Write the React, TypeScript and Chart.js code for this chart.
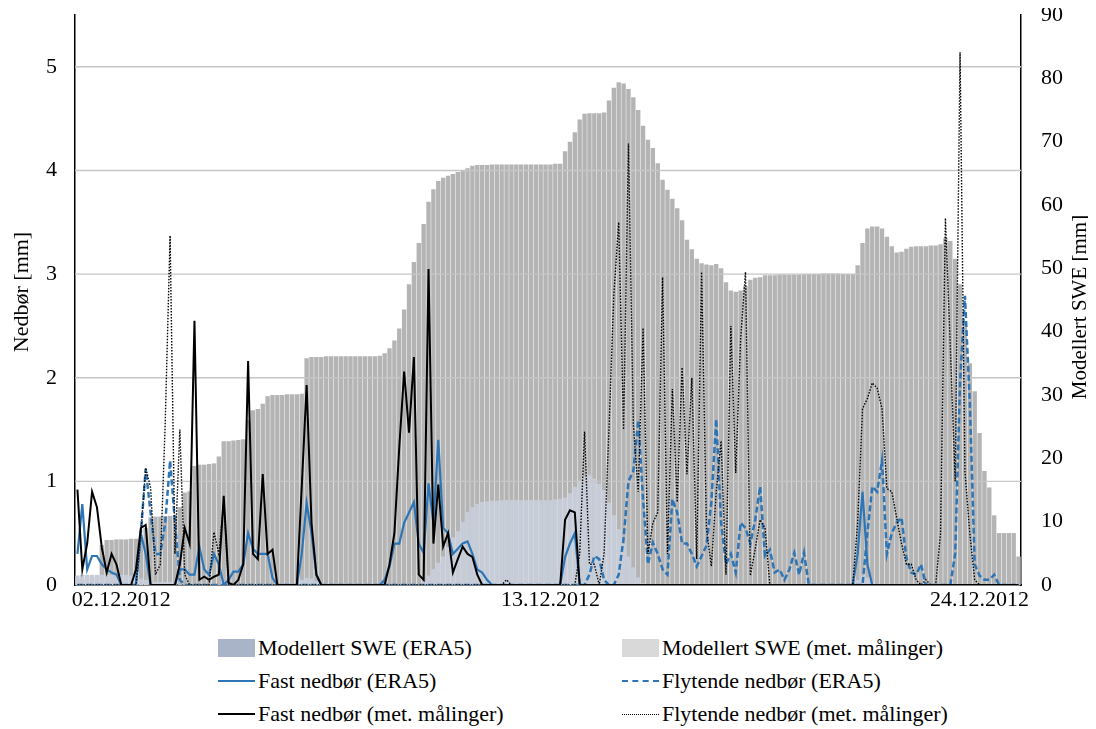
import React, { useEffect, useRef } from 'react';
import { Chart, registerables } from 'chart.js';

Chart.register(...registerables);

// 3-hourly steps from 01.12.2012 00:00
const N = 194;
const categories: string[] = Array.from({ length: N }, (_, i) => {
  const d = 1 + Math.floor(i / 8);
  const h = (i % 8) * 3;
  return `${String(d).padStart(2, '0')}.12.2012 ${String(h).padStart(2, '0')}:00`;
});

const tickIndices = [9, 97, 185];
const tickTexts = ['02.12.2012', '13.12.2012', '24.12.2012'];

// Modellert SWE (ERA5) [mm]
const sweEra5 = [
  1.0, 1.0, 1.2, 1.2, 1.2, 6.3, 7.1, 7.1, 7.2, 7.2, 7.2, 7.3, 7.3, 7.3, 9.0, 10.7,
  10.8, 10.8, 10.9, 10.9, 11.0, 12.3, 14.6, 14.8, 18.8, 19.0, 19.0, 19.1, 19.2, 20.3,
  22.7, 22.7, 22.8, 22.9, 23.0, 26.0, 27.6, 27.8, 28.6, 29.8, 30.0, 30.0, 30.0, 30.1,
  30.1, 30.1, 30.2, 35.8, 36.0,
  36.0, 36.0, 36.1, 36.1, 36.1, 36.1, 36.1, 36.1, 36.1, 36.1, 36.1, 36.1, 36.1, 36.2, 36.6,
  37.4, 38.6, 40.5, 43.5, 47.5, 51.0, 54.0, 57.0, 60.5, 62.5, 63.8, 64.3, 64.6, 64.9,
  65.2, 65.5, 65.8,
  66.2, 66.3, 66.3, 66.3, 66.4, 66.4, 66.4, 66.4, 66.4, 66.4, 66.4, 66.4, 66.4, 66.4,
  66.4, 66.4, 66.4, 66.5, 66.5,
  68.5, 70.0, 71.5, 73.5, 74.4, 74.5, 74.5, 74.5, 74.6, 76.5, 78.5, 79.4, 79.2, 78.3,
  77.0, 75.0, 72.5, 70.3, 69.0, 66.6, 64.0, 62.4, 61.0, 59.5, 57.6, 54.5, 53.0, 51.5,
  50.8, 50.6, 50.5, 50.7, 50.0, 47.8, 46.5, 46.3, 46.5, 47.2, 48.2, 48.5, 48.6,
  48.9, 48.9, 48.9, 49.0, 49.0, 49.0, 49.0, 49.0, 49.1, 49.1, 49.1, 49.1, 49.2, 49.2,
  49.2, 49.2, 49.1, 49.1, 49.1,
  50.5, 54.0, 56.3, 56.6, 56.6, 56.3, 55.0, 53.5, 52.5, 52.6, 53.1, 53.4, 53.5, 53.5,
  53.5, 53.6, 53.6, 53.8, 54.8, 54.3, 51.5, 47.5, 41.5, 35.0, 30.6, 24.0, 18.0, 15.4,
  11.0, 8.2, 8.2, 8.2, 8.2, 4.5,
];

// Modellert SWE (met. målinger) [mm]
const sweMet = [
  1.5, 1.6, 1.6, 1.6, 1.6, 1.6, 1.6, 1.6, 1.6, 1.6, 1.6, 1.5, 1.4, 1.0, 0.8,
  0.5, 0.5, 0.5, 0.5, 0.5,
  0, 0, 0, 0, 0, 0, 0, 0, 0, 0, 0, 0, 0, 0, 0, 0, 0, 0, 0, 0, 0, 0, 0, 0, 0, 0,
  0.8, 1.1, 1.0, 0.6, 0.3,
  0, 0, 0, 0, 0, 0, 0, 0, 0, 0, 0, 0, 0, 0, 0, 0, 0, 0, 0, 0,
  0.5, 1.5, 2.5, 3.5, 4.5, 6.0, 7.5, 8.5, 10.0, 11.5, 12.3, 12.8,
  13.1, 13.2, 13.3, 13.3, 13.4, 13.4, 13.4, 13.4, 13.4, 13.4, 13.4, 13.4, 13.4, 13.4,
  13.4, 13.5, 13.6,
  13.8, 14.5, 15.5, 16.5, 17.2, 17.4, 16.8, 16.0, 15.0, 13.0, 11.0, 8.8, 6.5, 4.5,
  2.8, 1.2, 0.3,
  0, 0, 0, 0, 0, 0, 0, 0, 0, 0, 0, 0, 0, 0, 0, 0, 0, 0, 0, 0, 0, 0, 0, 0, 0, 0,
  0, 0, 0, 0, 0, 0, 0, 0, 0, 0, 0, 0, 0, 0, 0, 0, 0,
  0.8, 1.5, 1.2, 0.5,
  0, 0, 0, 0, 0, 0, 0, 0, 0, 0, 0, 0, 0, 0, 0, 0, 0, 0, 0, 0, 0, 0, 0, 0, 0, 0,
  0, 0, 0, 0,
];

// Fast nedbør (ERA5) [mm]
const fastEra5 = [
  0.3, 0.78, 0.15, 0.28, 0.28, 0.2, 0.15, 0.12, 0.1, 0, 0, 0, 0, 0.5, 0.3,
  0, 0, 0, 0, 0, 0,
  0.15, 0.15, 0.1, 0.1, 0.37, 0.15, 0.1, 0.3, 0.2, 0, 0.05, 0.13, 0.13, 0.2, 0.5,
  0.35, 0.3, 0.3, 0.3, 0.07,
  0, 0, 0, 0, 0,
  0.3, 0.79, 0.5, 0.1,
  0, 0, 0, 0, 0, 0, 0, 0, 0, 0, 0, 0, 0,
  0.05, 0.18, 0.4, 0.4, 0.6, 0.7, 0.8, 0.4, 0.31, 0.98, 0.6, 1.4, 0.55, 0.5, 0.3,
  0.35, 0.4, 0.42, 0.3, 0.15, 0.12, 0.05,
  0, 0, 0, 0, 0, 0, 0, 0, 0, 0, 0, 0, 0, 0, 0,
  0.27, 0.4, 0.5,
  0, 0, 0, 0, 0, 0, 0, 0, 0, 0, 0, 0, 0, 0, 0, 0, 0, 0, 0, 0, 0, 0, 0, 0, 0, 0,
  0, 0, 0, 0, 0, 0, 0, 0, 0, 0, 0, 0, 0, 0, 0, 0, 0, 0, 0, 0, 0, 0, 0, 0, 0, 0,
  0, 0, 0, 0, 0,
  0.3, 0.9, 0.2,
  0, 0, 0, 0, 0, 0, 0, 0, 0, 0, 0, 0, 0, 0, 0, 0, 0, 0, 0, 0, 0, 0, 0, 0, 0, 0,
  0, 0, 0, 0, 0,
];

// Flytende nedbør (ERA5) [mm]
const flytEra5 = [
  0, 0, 0, 0, 0, 0, 0, 0, 0, 0, 0, 0, 0,
  0.5, 1.12, 0.7, 0.3, 0.3, 0.6, 1.2, 0.6, 0.05,
  0, 0, 0, 0, 0, 0, 0, 0, 0, 0, 0, 0, 0, 0, 0, 0, 0, 0, 0, 0, 0, 0, 0, 0, 0, 0,
  0, 0, 0, 0, 0, 0, 0, 0, 0, 0, 0, 0, 0, 0, 0, 0, 0, 0, 0, 0, 0, 0, 0, 0, 0, 0,
  0, 0, 0, 0, 0, 0, 0, 0, 0, 0, 0, 0, 0, 0, 0, 0, 0, 0, 0, 0, 0, 0, 0, 0, 0, 0,
  0, 0, 0, 0, 0,
  0.1, 0.28, 0.25, 0.05, 0, 0, 0.1, 0.45, 1.0, 1.1, 1.59, 0.82, 0.2, 0.41, 0.3,
  0.15, 0.1, 0.83, 0.7, 0.4, 0.4, 0.3, 0.18, 0.28, 0.38, 0.8, 1.6, 0.6, 0.2, 0.3,
  0.12, 0.6, 0.55, 0.4, 0.63, 0.95, 0.28, 0.34, 0.12, 0.15, 0.05, 0.15, 0.31, 0.1,
  0.31,
  0, 0, 0, 0, 0, 0, 0, 0, 0, 0, 0, 0,
  0.5, 0.95, 0.9, 1.2, 0.3, 0.5, 0.6, 0.65, 0.26, 0.12, 0.1, 0.2,
  0, 0, 0, 0, 0, 0,
  0.3, 1.95, 2.79, 1.77, 0.2, 0.09, 0.05, 0.05, 0.1,
  0, 0, 0, 0, 0, 0, 0,
];

// Fast nedbør (met. målinger) [mm]
const fastMet = [
  0.92, 0.15, 0.4, 0.9, 0.75, 0.36, 0.12, 0.3, 0.2, 0, 0, 0, 0.15, 0.55, 0.58,
  0, 0, 0, 0, 0, 0,
  0.2, 0.55, 0.4, 2.55, 0.05, 0.08, 0.05, 0.08, 0.1, 0.86, 0.02, 0, 0.05, 0.2, 2.16,
  0.3, 0.25, 1.07, 0.3, 0.34,
  0, 0, 0, 0, 0,
  0.95, 1.93, 0.6, 0.1,
  0, 0, 0, 0, 0, 0, 0, 0, 0, 0, 0, 0, 0, 0,
  0.2, 0.5, 1.33, 2.06, 1.47, 2.2, 0.1, 0.05, 3.05, 0.4, 0.97, 0.37, 0.5, 0.12,
  0.25, 0.37, 0.3, 0.27, 0.1,
  0, 0, 0, 0, 0, 0, 0, 0, 0, 0, 0, 0, 0, 0, 0, 0, 0,
  0.63, 0.72, 0.7,
  0, 0, 0, 0, 0, 0, 0, 0, 0, 0, 0, 0, 0, 0, 0, 0, 0, 0, 0, 0, 0, 0, 0, 0, 0, 0,
  0, 0, 0, 0, 0, 0, 0, 0, 0, 0, 0, 0, 0, 0, 0, 0, 0, 0, 0, 0, 0, 0, 0, 0, 0, 0,
  0, 0, 0, 0, 0, 0, 0, 0, 0, 0, 0, 0, 0, 0, 0, 0, 0, 0, 0, 0, 0, 0, 0, 0, 0, 0,
  0, 0, 0, 0, 0, 0, 0, 0, 0, 0, 0, 0, 0, 0, 0, 0, 0, 0, 0, 0, 0, 0, 0, 0, 0, 0,
  0, 0, 0, 0, 0, 0, 0,
];

// Flytende nedbør (met. målinger) [mm]
const flytMet = [
  0, 0, 0, 0, 0, 0, 0, 0, 0, 0, 0, 0, 0,
  0.5, 1.13, 0.94, 0.1, 0.2, 1.56, 3.37, 0.3, 1.5, 0.1,
  0, 0, 0, 0, 0,
  0.51, 0.3, 0.8,
  0, 0, 0, 0, 0, 0, 0, 0, 0, 0, 0, 0, 0, 0, 0, 0, 0, 0, 0, 0, 0, 0, 0, 0, 0, 0,
  0, 0, 0, 0, 0, 0, 0, 0, 0, 0, 0, 0, 0, 0, 0, 0, 0, 0, 0, 0, 0, 0, 0, 0, 0, 0,
  0, 0, 0, 0, 0,
  0.05,
  0, 0, 0, 0, 0, 0, 0, 0, 0, 0, 0, 0, 0, 0,
  0.3, 1.48, 0.2, 0.2, 0, 0.3, 1.5, 2.8, 3.5, 1.5, 4.26, 1.55, 0.9, 2.48, 0.3, 0.6,
  0.7, 2.97, 0.3, 1.89, 0.8, 2.1, 1.07, 2.0, 0.25, 3.02, 0.54, 0.18, 0.9, 1.39, 0.1,
  2.5, 1.08, 2.37, 3.02, 0.09, 0.35, 0.63, 0.55,
  0, 0, 0, 0, 0, 0, 0, 0, 0, 0, 0, 0, 0, 0, 0, 0, 0, 0,
  0.6, 1.7, 1.8, 1.95, 1.9, 1.7, 0.93, 0.9, 0.65, 0.4, 0.2, 0.2, 0.05, 0, 0.05, 0,
  0, 0.5, 3.54, 2.3, 1.0, 5.14, 1.1, 0.5, 0.05,
  0, 0, 0, 0, 0, 0, 0, 0, 0,
];

const gridValues = [1, 2, 3, 4, 5];

const BLUE = '#2E75B6';
const FONT = "'Liberation Serif', 'Times New Roman', serif";

const legendItems = [
  { label: 'Modellert SWE (ERA5)', kind: 'box', color: '#A9B4C8', col: 0, row: 0 },
  { label: 'Modellert SWE (met. målinger)', kind: 'box', color: '#D9D9D9', col: 1, row: 0 },
  { label: 'Fast nedbør (ERA5)', kind: 'solid', color: BLUE, col: 0, row: 1 },
  { label: 'Flytende nedbør (ERA5)', kind: 'dashed', color: BLUE, col: 1, row: 1 },
  { label: 'Fast nedbør (met. målinger)', kind: 'solid', color: '#000000', col: 0, row: 2 },
  { label: 'Flytende nedbør (met. målinger)', kind: 'dotted', color: '#000000', col: 1, row: 2 },
];

function fit(arr: number[]) {
  const a = arr.slice(0, N);
  while (a.length < N) a.push(0);
  return a;
}

const overlayPlugin = {
  id: 'overlay',
  afterDatasetDraw(chart: any, args: any) {
    if (args.index !== 1) return;
    const { ctx, chartArea, scales } = chart;
    ctx.save();
    ctx.strokeStyle = '#C6C6C6';
    ctx.lineWidth = 1.4;
    for (const v of gridValues) {
      const y = scales.y.getPixelForValue(v);
      ctx.beginPath();
      ctx.moveTo(chartArea.left, y);
      ctx.lineTo(chartArea.right, y);
      ctx.stroke();
    }
    ctx.restore();
  },
  afterDraw(chart: any) {
    const { ctx, chartArea } = chart;
    const cy = (chartArea.top + chartArea.bottom) / 2;
    ctx.save();
    ctx.fillStyle = '#000';
    ctx.font = `22px ${FONT}`;
    ctx.textAlign = 'center';
    ctx.textBaseline = 'middle';
    ctx.translate(14, cy - 8);
    ctx.rotate(-Math.PI / 2);
    ctx.fillText('Nedbør [mm]', 0, 0);
    ctx.restore();
    ctx.save();
    ctx.fillStyle = '#000';
    ctx.font = `21px ${FONT}`;
    ctx.textAlign = 'center';
    ctx.textBaseline = 'middle';
    ctx.translate(1072, cy + 7);
    ctx.rotate(-Math.PI / 2);
    ctx.fillText('Modellert SWE [mm]', 0, 0);
    ctx.restore();
  },
};

function LegendPatch({ kind, color }: { kind: string; color: string }) {
  if (kind === 'box') {
    return <div style={{ width: 37, height: 18, background: color }} />;
  }
  const style: any = { width: 37, height: 0 };
  if (kind === 'solid') style.borderTop = `2.5px solid ${color}`;
  if (kind === 'dashed') style.borderTop = `2.5px dashed ${color}`;
  if (kind === 'dotted') style.borderTop = `1.5px dotted ${color}`;
  return <div style={style} />;
}

export default function App() {
  const canvasRef = useRef<HTMLCanvasElement | null>(null);

  useEffect(() => {
    if (!canvasRef.current) return;
    Chart.defaults.font.family = FONT;
    const tickFont = { family: FONT, size: 22 };
    const chart = new Chart(canvasRef.current, {
      type: 'bar',
      data: {
        labels: categories,
        datasets: [
          {
            type: 'bar',
            label: 'Modellert SWE (ERA5)',
            data: fit(sweEra5),
            yAxisID: 'y2',
            backgroundColor: '#B4B4B4',
            borderWidth: 0,
            barPercentage: 0.9,
            categoryPercentage: 1.0,
            grouped: false,
            order: 11,
          } as any,
          {
            type: 'bar',
            label: 'Modellert SWE (met. målinger)',
            data: fit(sweMet),
            yAxisID: 'y2',
            backgroundColor: '#C7CDD8',
            borderWidth: 0,
            barPercentage: 0.9,
            categoryPercentage: 1.0,
            grouped: false,
            order: 10,
          } as any,
          {
            type: 'line',
            label: 'Fast nedbør (ERA5)',
            data: fit(fastEra5),
            yAxisID: 'y',
            borderColor: BLUE,
            borderWidth: 2.2,
            pointRadius: 0,
            tension: 0,
            order: 3,
          } as any,
          {
            type: 'line',
            label: 'Flytende nedbør (ERA5)',
            data: fit(flytEra5),
            yAxisID: 'y',
            borderColor: BLUE,
            borderWidth: 2.5,
            borderDash: [6, 3],
            pointRadius: 0,
            tension: 0,
            order: 2,
          } as any,
          {
            type: 'line',
            label: 'Fast nedbør (met. målinger)',
            data: fit(fastMet),
            yAxisID: 'y',
            borderColor: '#000000',
            borderWidth: 2,
            pointRadius: 0,
            tension: 0,
            order: 1,
          } as any,
          {
            type: 'line',
            label: 'Flytende nedbør (met. målinger)',
            data: fit(flytMet),
            yAxisID: 'y',
            borderColor: '#000000',
            borderWidth: 1.4,
            borderDash: [1.5, 1.5],
            pointRadius: 0,
            tension: 0,
            order: 0,
          } as any,
        ],
      },
      options: {
        responsive: false,
        maintainAspectRatio: false,
        animation: false,
        layout: { padding: { left: 0, right: 0, top: 7, bottom: 0 } },
        plugins: {
          legend: { display: false },
          tooltip: { enabled: false },
        },
        scales: {
          x: {
            type: 'category',
            offset: true,
            grid: { display: false, drawTicks: false },
            border: { display: true, color: '#000', width: 1.5 },
            ticks: {
              autoSkip: false,
              maxRotation: 0,
              minRotation: 0,
              padding: 2,
              color: '#000',
              font: tickFont,
              callback: (_v: any, idx: number) => {
                const k = tickIndices.indexOf(idx);
                return k >= 0 ? tickTexts[k] : '';
              },
            },
            afterFit: (s: any) => {
              s.height = 43;
              s.paddingLeft = 0;
              s.paddingRight = 0;
            },
          },
          y: {
            position: 'left',
            min: 0,
            max: 5.5,
            grid: { display: false, drawTicks: false },
            border: { display: true, color: '#000', width: 1.5 },
            ticks: {
              stepSize: 1,
              includeBounds: false,
              padding: 18,
              color: '#000',
              font: tickFont,
            },
            afterFit: (s: any) => {
              s.width = 67;
              s.paddingTop = 0;
              s.paddingBottom = 0;
            },
          },
          y2: {
            position: 'right',
            min: 0,
            max: 90,
            grid: { display: false, drawTicks: false },
            border: { display: true, color: '#000', width: 1.5 },
            ticks: {
              stepSize: 10,
              padding: 20,
              color: '#000',
              font: tickFont,
            },
            afterFit: (s: any) => {
              s.width = 67;
              s.paddingTop = 0;
              s.paddingBottom = 0;
            },
          },
        } as any,
      },
      plugins: [overlayPlugin],
    });
    return () => chart.destroy();
  }, []);

  const colPatchX = [210, 614];
  const rowY = [640, 673, 706];

  return (
    <div style={{ position: 'relative', width: 1080, height: 721, fontFamily: FONT }}>
      <canvas ref={canvasRef} width={1080} height={620} style={{ display: 'block' }} />
      {legendItems.map((it) => (
        <div
          key={it.label}
          style={{
            position: 'absolute',
            left: colPatchX[it.col],
            top: rowY[it.row] - 14,
            height: 28,
            display: 'flex',
            alignItems: 'center',
            whiteSpace: 'nowrap',
            fontSize: 22,
            color: '#000',
          }}
        >
          <LegendPatch kind={it.kind} color={it.color} />
          <span style={{ marginLeft: 3 }}>{it.label}</span>
        </div>
      ))}
    </div>
  );
}
